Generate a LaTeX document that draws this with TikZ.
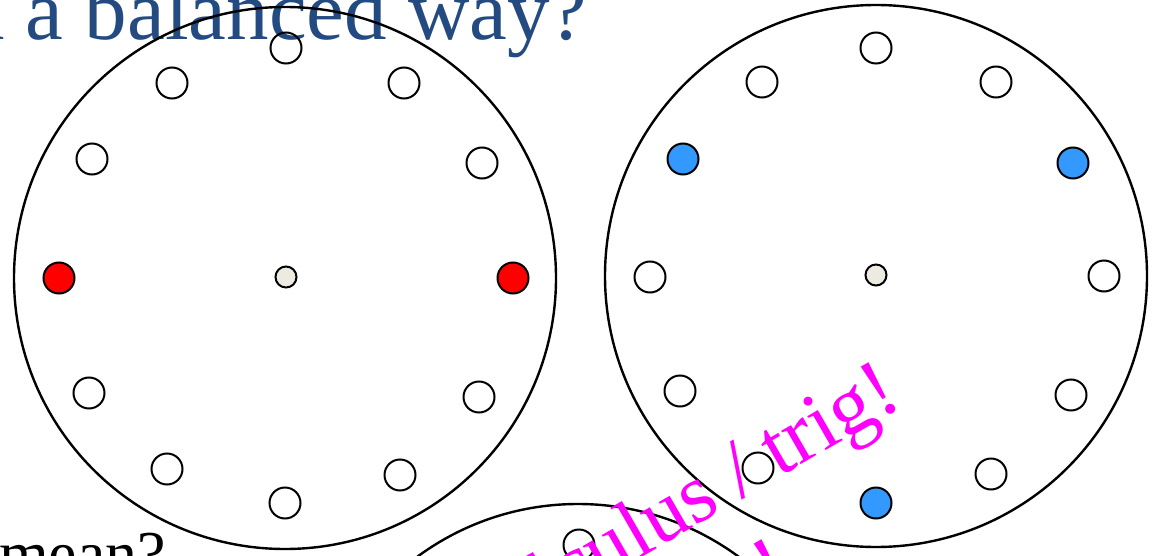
\documentclass[tikz,border=0pt]{standalone}
\usepackage{fontspec}
\setmainfont{Liberation Serif}
\definecolor{titleblue}{RGB}{35,75,130}
\definecolor{dotblue}{RGB}{51,153,255}
\definecolor{hubfill}{RGB}{236,234,225}
\definecolor{notemag}{RGB}{255,0,255}
\tikzset{
  wheel/.style={circle,draw=black,line width=2.4pt,minimum size=542pt,inner sep=0pt},
  slot/.style={circle,draw=black,line width=2pt,minimum size=31pt,inner sep=0pt},
  redslot/.style={slot,fill=red},
  blueslot/.style={slot,fill=dotblue},
  hub/.style={circle,draw=black,line width=2pt,minimum size=21pt,inner sep=0pt,fill=hubfill},
  titletext/.style={text=titleblue,font=\fontsize{85}{100}\selectfont,inner sep=0pt},
  bodytext/.style={text=black,font=\fontsize{64}{76}\selectfont,inner sep=0pt},
  magtext/.style={text=notemag,font=\fontsize{84}{100}\selectfont,inner sep=0pt,rotate=30}
}
\begin{document}
\begin{tikzpicture}[x=1pt,y=-1pt]
\useasboundingbox (0,0) rectangle (1153,556);
\fill[white] (0,0) rectangle (1153,556);
% title and body text
\node[titletext,anchor=base west] (title) at (-38,40) {n a balanced way?};
\node[bodytext,anchor=base west] (body) at (-1,575) {mean?};
% left wheel
\node[wheel] (L) at (285,278) {};
\node[hub] (Lc) at (286,277) {};
\node[slot] (L1) at (286,48) {};
\node[slot] (L2) at (172,83) {};
\node[slot] (L3) at (404,83) {};
\node[slot] (L4) at (92,159) {};
\node[slot] (L5) at (482,163) {};
\node[redslot] (L6) at (59,278) {};
\node[redslot] (L7) at (513,278) {};
\node[slot] (L8) at (89,393) {};
\node[slot] (L9) at (479,397) {};
\node[slot] (L10) at (167,469) {};
\node[slot] (L11) at (400,475) {};
\node[slot] (L12) at (285,503) {};
% right wheel
\node[wheel] (R) at (876,276) {};
\node[hub] (Rc) at (876,275) {};
\node[slot] (R1) at (876,48) {};
\node[slot] (R2) at (762,82) {};
\node[slot] (R3) at (996,82) {};
\node[blueslot] (R4) at (683,159) {};
\node[blueslot] (R5) at (1073,163) {};
\node[slot] (R6) at (650,277) {};
\node[slot] (R7) at (1104,276) {};
\node[slot] (R8) at (680,391) {};
\node[slot] (R9) at (1071,395) {};
\node[slot] (R10) at (758,468) {};
\node[slot] (R11) at (991,474) {};
\node[blueslot] (R12) at (876,503) {};
% bottom wheel
\node[wheel] (B) at (578,775) {};
\node[slot] (B1) at (579,545) {};
% magenta note
\node[magtext,anchor=base east] (note) at (905,405) {Calculus / trig!};
\node[magtext,anchor=base] (note2) at (786,590) {!};
\end{tikzpicture}
\end{document}
